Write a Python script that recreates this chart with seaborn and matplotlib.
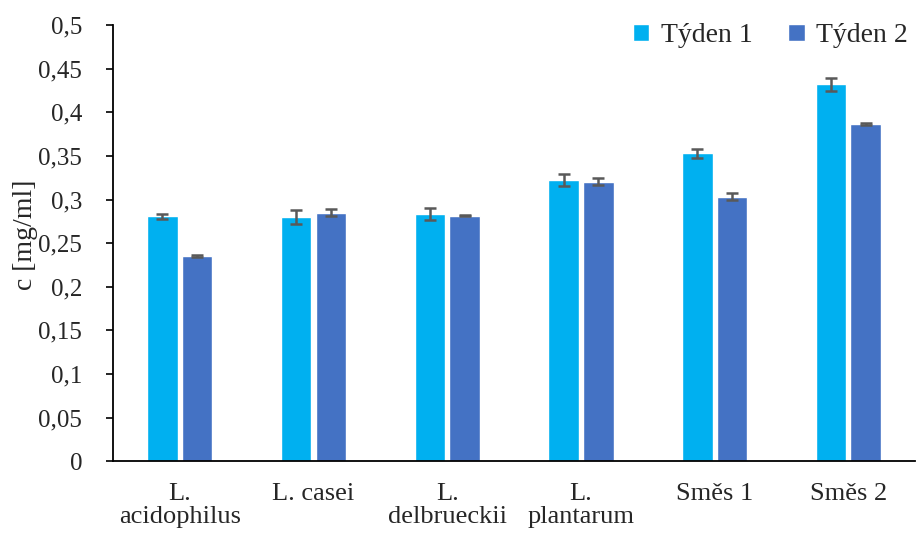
import pandas as pd
import numpy as np
import matplotlib
matplotlib.use("Agg")
import matplotlib.pyplot as plt
import seaborn as sns
from matplotlib.ticker import FuncFormatter

kmeny = ["L.\nacidophilus", "L. casei", "L.\ndelbrueckii", "L.\nplantarum", "Směs 1", "Směs 2"]
tyden1 = [0.281, 0.2805, 0.283, 0.322, 0.353, 0.432]
tyden2 = [0.2355, 0.285, 0.2817, 0.3207, 0.3035, 0.3865]
err1 = [0.003, 0.008, 0.007, 0.007, 0.005, 0.0077]
err2 = [0.001, 0.004, 0.001, 0.0035, 0.004, 0.001]
serie = ["Týden 1", "Týden 2"]
barvy = ["#00B0F0", "#4472C4"]

df = pd.DataFrame({
    "kmen": kmeny * 2,
    "c": tyden1 + tyden2,
    "tyden": [serie[0]] * len(kmeny) + [serie[1]] * len(kmeny),
})

sns.set_style("white")
plt.rcParams["font.family"] = ["Liberation Serif", "DejaVu Serif"]

fig = plt.figure(figsize=(9.18, 5.35), dpi=100)
ax = fig.add_axes([0.123, 0.138, 0.874, 0.815])

sns.barplot(data=df, x="kmen", y="c", hue="tyden", palette=barvy, saturation=1,
            width=0.52, gap=0.12, errorbar=None, ax=ax, legend=True)

# error bars on top of each bar
errs = err1 + err2
vals = tyden1 + tyden2
for p, v, e in zip(ax.patches[:len(vals)], vals, errs):
    xc = p.get_x() + p.get_width() / 2
    ax.errorbar(xc, v, yerr=e, fmt="none", ecolor="#595959",
                elinewidth=1.8, capsize=4.3, capthick=1.8, zorder=5)

ax.set_ylim(0, 0.5)
ax.set_xlim(-0.5, 5.5)
ax.set_yticks(np.arange(0, 0.501, 0.05))
ax.yaxis.set_major_formatter(FuncFormatter(lambda v, _: ("%g" % round(v, 2)).replace(".", ",")))
ax.set_xlabel("")
ax.set_ylabel("c [mg/ml]", fontsize=20)
ax.yaxis.set_label_coords(-0.093, 0.52)
ax.tick_params(axis="y", labelsize=18, left=True, length=5, width=1.2, color="black", pad=17)
ax.tick_params(axis="x", labelsize=19, bottom=False, pad=12)
for lab in ax.get_xticklabels():
    lab.set_linespacing(1.1)

for s in ["top", "right"]:
    ax.spines[s].set_visible(False)
for s in ["left", "bottom"]:
    ax.spines[s].set_color("black")
    ax.spines[s].set_linewidth(1.3)

leg = ax.legend(loc="upper right", bbox_to_anchor=(1.022, 1.062), ncol=2, frameon=False,
                fontsize=20, handlelength=0.6, handleheight=0.6, handletextpad=0.4,
                columnspacing=1.3)

fig.savefig("out.png", dpi=100)
